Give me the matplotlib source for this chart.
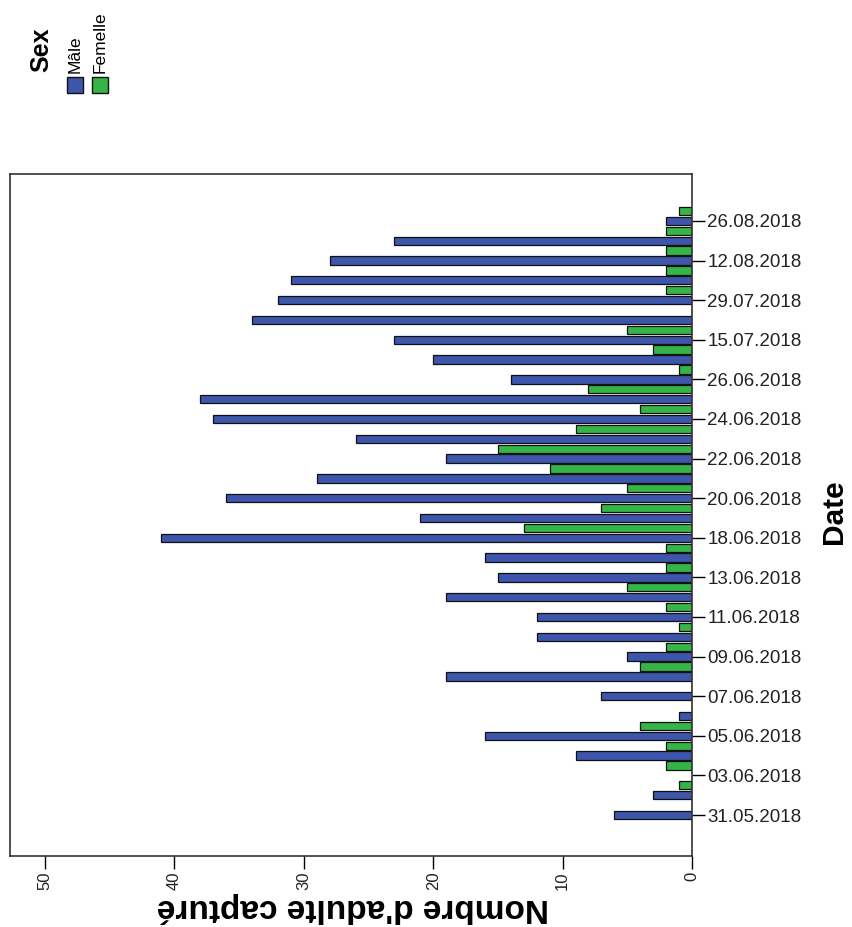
import numpy as np
import matplotlib
matplotlib.use("Agg")
import matplotlib.pyplot as plt
from matplotlib.patches import Rectangle

plt.rcParams['font.family'] = ['Liberation Sans', 'DejaVu Sans']

# one entry per capture date, oldest first (only every other date is labelled)
male = [6, 3, 0, 9, 16, 1, 7, 19, 5, 12, 12, 19, 15, 16, 41, 21,
        36, 29, 19, 26, 37, 38, 14, 20, 23, 34, 32, 31, 28, 23, 2]
female = [0, 1, 2, 2, 4, 0, 0, 4, 2, 1, 2, 5, 2, 2, 13, 7,
          5, 11, 15, 9, 4, 8, 1, 3, 5, 0, 2, 2, 2, 2, 1]
date_labels = ["31.05.2018", "03.06.2018", "05.06.2018", "07.06.2018",
               "09.06.2018", "11.06.2018", "13.06.2018", "18.06.2018",
               "20.06.2018", "22.06.2018", "24.06.2018", "26.06.2018",
               "15.07.2018", "29.07.2018", "12.08.2018", "26.08.2018"]
value_ticks = [0, 10, 20, 30, 40, 50]

BLUE = "#3d55aa"
GREEN = "#35b548"
W, H = 853, 927

fig = plt.figure(figsize=(W / 100, H / 100), dpi=100)
ax = fig.add_axes([10 / W, 1 - 856 / H, 682 / W, 682 / H])

idx = np.arange(len(male))
ax.barh(idx, male, height=0.42, color=BLUE, edgecolor="#111111", linewidth=0.9)
ax.barh(idx + 0.5, female, height=0.42, color=GREEN, edgecolor="#111111", linewidth=0.9)

ax.set_xlim(52.7, 0)
ax.set_ylim(-2.07, 32.37)

ax.yaxis.tick_right()
ax.set_yticks(idx[::2])
ax.set_yticklabels(date_labels, fontsize=13.5, color="#222222")
ax.tick_params(axis="y", length=9, width=1, pad=2, left=False)

ax.set_xticks(value_ticks)
ax.set_xticklabels([str(v) for v in value_ticks], rotation=90, fontsize=12,
                   color="#222222")
ax.tick_params(axis="x", length=9, width=1, pad=2, top=False)

for sp in ax.spines.values():
    sp.set_color("#333333")
    sp.set_linewidth(1.2)

fig.text(353 / W, 1 - 908 / H, "Nombre d'adulte capturé", rotation=180,
         ha="center", va="center", fontsize=24, fontweight="bold")
fig.text(834 / W, 1 - 512 / H, "Date", rotation=90,
         ha="center", va="center", fontsize=21.5, fontweight="bold")

# legend, drawn by hand because it is rotated
fig.text(41 / W, 1 - 50 / H, "Sex", rotation=90, ha="center", va="center",
         fontsize=18, fontweight="bold")
fig.text(75 / W, 1 - 73 / H, "Mâle", rotation=90, ha="center", va="bottom",
         fontsize=12.5)
fig.text(100 / W, 1 - 73 / H, "Femelle", rotation=90, ha="center", va="bottom",
         fontsize=12.5)
for x0, col in [(67, BLUE), (92, GREEN)]:
    fig.patches.append(Rectangle((x0 / W, 1 - 93 / H), 16 / W, 16 / H,
                                 transform=fig.transFigure, facecolor=col,
                                 edgecolor="#111111", linewidth=1))

fig.savefig("out.png", dpi=100)
